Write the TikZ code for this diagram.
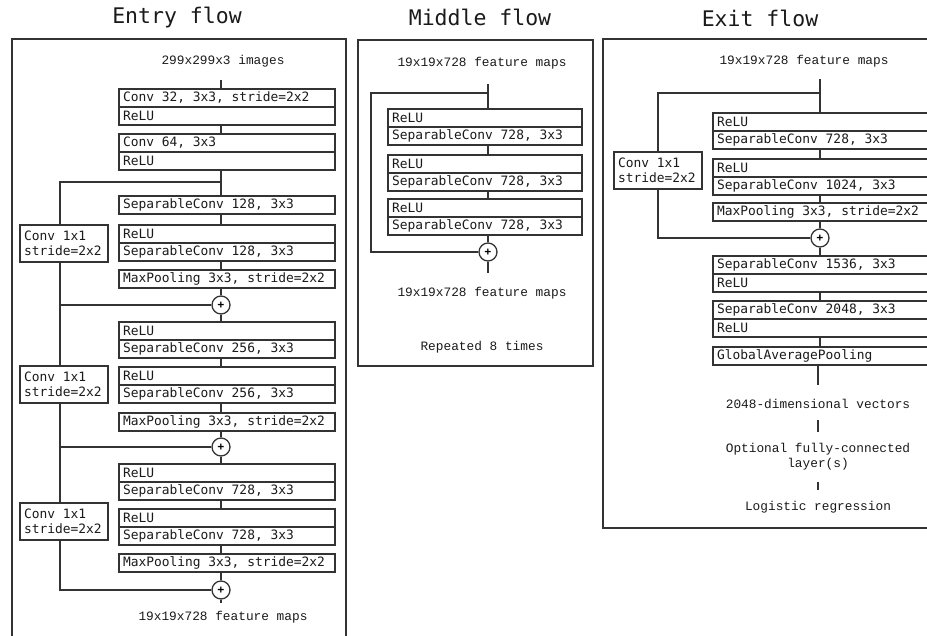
\documentclass[tikz,border=0pt]{standalone}
\usepackage{fontspec}
\usepackage{xcolor}
\usetikzlibrary{positioning}
\newfontfamily\dejamono{DejaVu Sans Mono}
\newfontfamily\libmono{Liberation Mono}
\newcommand\monospaces{\fontdimen2\font=0.602em\fontdimen3\font=0pt\fontdimen4\font=0pt}
\newcommand\blkfnt{\dejamono\fontsize{12.9}{15}\selectfont\monospaces}
\newcommand\lblfnt{\libmono\fontsize{12.8}{15}\selectfont}
\newcommand\ttlfnt{\dejamono\fontsize{21.5}{24}\selectfont\monospaces}
\newcommand\sumfnt{\dejamono\bfseries\fontsize{11}{11}\selectfont}
\definecolor{linegray}{HTML}{333333}
\definecolor{inkgray}{HTML}{1A1A1A}
\tikzset{
	blk/.style={draw=linegray, line width=1.3pt, outer sep=0pt, inner xsep=4pt, inner ysep=0pt,
		minimum height=18pt, align=left, anchor=north west, font=\blkfnt, text=inkgray,
		execute at begin node={\spaceskip=0pt\xspaceskip=0pt}},
	entryblk/.style={blk, text width=208pt},
	midblk/.style={blk, text width=186pt},
	exitblk/.style={blk, text width=214pt},
	shortcut/.style={blk, text width=80pt, minimum height=37pt},
	addnode/.style={circle, draw=linegray, line width=1.3pt, minimum size=18pt, inner sep=0pt, fill=white, font=\sumfnt},
	lbl/.style={font=\lblfnt, text=inkgray, align=center},
	flowtitle/.style={font=\ttlfnt, text=inkgray},
	link/.style={draw=linegray, line width=1.2pt},
	panel/.style={draw=linegray, line width=1.2pt},
}
\begin{document}
\begin{tikzpicture}[x=1pt,y=-1pt]
	\useasboundingbox (0,0) rectangle (927,636);
	\clip (0,0) rectangle (927,636);
	% Panels
	\draw[panel] (12,39) rectangle (346,660);
	\draw[panel] (358,40) rectangle (593,366);
	\draw[panel] (603,39) rectangle (945,528);
	\node[flowtitle] (tentry) at (177,18) {Entry flow};
	\node[flowtitle] (tmid) at (480,17) {Middle flow};
	\node[flowtitle] (texit) at (760,18) {Exit flow};
	\coordinate (espine) at (221,0);
	\coordinate (eskip) at (60,0);
	\coordinate (mspine) at (488,0);
	\coordinate (mskip) at (371,0);
	\coordinate (xspine) at (820,0);

	% Entry flow
	\node[lbl] (ein) at (223,61) {299x299x3 images};
	\node[entryblk] (e1a) at (119,89) {Conv 32, 3x3, stride=2x2};
	\node[entryblk, below=0pt of e1a] (e1b) {ReLU};
	\node[entryblk] (e2a) at (119,134) {Conv 64, 3x3};
	\node[entryblk, below=0pt of e2a] (e2b) {ReLU};
	\coordinate (eb1) at (221,182);
	\node[entryblk] (e3) at (119,196) {SeparableConv 128, 3x3};
	\node[entryblk] (e4a) at (119,225) {ReLU};
	\node[entryblk, below=0pt of e4a] (e4b) {SeparableConv 128, 3x3};
	\node[entryblk] (e5) at (119,270) {MaxPooling 3x3, stride=2x2};
	\node[addnode] (p1) at (221,305) {+};
	\node[entryblk] (e6a) at (119,322) {ReLU};
	\node[entryblk, below=0pt of e6a] (e6b) {SeparableConv 256, 3x3};
	\node[entryblk] (e7a) at (119,367) {ReLU};
	\node[entryblk, below=0pt of e7a] (e7b) {SeparableConv 256, 3x3};
	\node[entryblk] (e8) at (119,413) {MaxPooling 3x3, stride=2x2};
	\node[addnode] (p2) at (221,447) {+};
	\node[entryblk] (e9a) at (119,464) {ReLU};
	\node[entryblk, below=0pt of e9a] (e9b) {SeparableConv 728, 3x3};
	\node[entryblk] (e10a) at (119,509) {ReLU};
	\node[entryblk, below=0pt of e10a] (e10b) {SeparableConv 728, 3x3};
	\node[entryblk] (e11) at (119,554) {MaxPooling 3x3, stride=2x2};
	\node[addnode] (p3) at (221,590) {+};
	\node[lbl] (eout) at (223,617) {19x19x728 feature maps};
	\node[shortcut] (c1) at (20,225) {Conv 1x1\\stride=2x2};
	\node[shortcut] (c2) at (20,366) {Conv 1x1\\stride=2x2};
	\node[shortcut] (c3) at (20,503) {Conv 1x1\\stride=2x2};
	\draw[link, shorten <=10pt] (ein.south -| espine) -- (e1a.north -| espine);
	\draw[link] (e1b.south -| espine) -- (e2a.north -| espine);
	\draw[link] (e2b.south -| espine) -- (e3.north -| espine);
	\draw[link] (e3.south -| espine) -- (e4a.north -| espine);
	\draw[link] (e4b.south -| espine) -- (e5.north -| espine);
	\draw[link] (e5.south -| espine) -- (p1.north);
	\draw[link] (p1.south) -- (e6a.north -| espine);
	\draw[link] (e6b.south -| espine) -- (e7a.north -| espine);
	\draw[link] (e7b.south -| espine) -- (e8.north -| espine);
	\draw[link] (e8.south -| espine) -- (p2.north);
	\draw[link] (p2.south) -- (e9a.north -| espine);
	\draw[link] (e9b.south -| espine) -- (e10a.north -| espine);
	\draw[link] (e10b.south -| espine) -- (e11.north -| espine);
	\draw[link] (e11.south -| espine) -- (p3.north);
	\draw[link, shorten >=5pt] (p3.south) -- (eout.north -| espine);
	% shortcuts
	\draw[link] (eb1) -| (c1.north -| eskip);
	\draw[link] (c1.south -| eskip) |- (p1.west);
	\draw[link] (p1.west -| eskip) -- (c2.north -| eskip);
	\draw[link] (c2.south -| eskip) |- (p2.west);
	\draw[link] (p2.west -| eskip) -- (c3.north -| eskip);
	\draw[link] (c3.south -| eskip) |- (p3.west);

	% Middle flow
	\node[lbl] (min) at (482,63) {19x19x728 feature maps};
	\coordinate (mb) at (488,93);
	\node[midblk] (m1a) at (388,109) {ReLU};
	\node[midblk, below=0pt of m1a] (m1b) {SeparableConv 728, 3x3};
	\node[midblk] (m2a) at (388,155) {ReLU};
	\node[midblk, below=0pt of m2a] (m2b) {SeparableConv 728, 3x3};
	\node[midblk] (m3a) at (388,199) {ReLU};
	\node[midblk, below=0pt of m3a] (m3b) {SeparableConv 728, 3x3};
	\node[addnode] (mp) at (488,252) {+};
	\node[lbl] (mout) at (482,293) {19x19x728 feature maps};
	\node[lbl] (mrep) at (482,347) {Repeated 8 times};
	\draw[link, shorten <=12pt] (min.south -| mspine) -- (m1a.north -| mspine);
	\draw[link] (m1b.south -| mspine) -- (m2a.north -| mspine);
	\draw[link] (m2b.south -| mspine) -- (m3a.north -| mspine);
	\draw[link] (m3b.south -| mspine) -- (mp.north);
	\draw[link, shorten >=10pt] (mp.south) -- (mout.north -| mspine);
	\draw[link] (mb) -| (mp.west -| mskip) -- (mp.west);

	% Exit flow
	\node[lbl] (xin) at (804,61) {19x19x728 feature maps};
	\coordinate (xb) at (820,93);
	\node[exitblk] (x1a) at (713,113) {ReLU};
	\node[exitblk, below=0pt of x1a] (x1b) {SeparableConv 728, 3x3};
	\node[exitblk] (x2a) at (713,159) {ReLU};
	\node[exitblk, below=0pt of x2a] (x2b) {SeparableConv 1024, 3x3};
	\node[exitblk] (x3) at (713,203) {MaxPooling 3x3, stride=2x2};
	\node[addnode] (xp) at (820,238) {+};
	\node[exitblk] (x4a) at (713,256) {SeparableConv 1536, 3x3};
	\node[exitblk, below=0pt of x4a] (x4b) {ReLU};
	\node[exitblk] (x5a) at (713,301) {SeparableConv 2048, 3x3};
	\node[exitblk, below=0pt of x5a] (x5b) {ReLU};
	\node[exitblk] (x6) at (713,347) {GlobalAveragePooling};
	\node[lbl] (xvec) at (818,404) {2048-dimensional vectors};
	\node[lbl] (xfc) at (818,457) {Optional fully-connected\\layer(s)};
	\node[lbl] (xlog) at (818,507) {Logistic regression};
	\node[shortcut] (xc) at (614,152) {Conv 1x1\\stride=2x2};
	\draw[link, shorten <=9pt] (xin.south -| xspine) -- (x1a.north -| xspine);
	\draw[link] (x1b.south -| xspine) -- (x2a.north -| xspine);
	\draw[link] (x2b.south -| xspine) -- (x3.north -| xspine);
	\draw[link] (x3.south -| xspine) -- (xp.north);
	\draw[link] (xp.south) -- (x4a.north -| xspine);
	\draw[link] (x4b.south -| xspine) -- (x5a.north -| xspine);
	\draw[link] (x5b.south -| xspine) -- (x6.north -| xspine);
	\draw[link, shorten >=11pt] (x6.south -| xvec) -- (xvec.north);
	\draw[link, shorten <=8pt, shorten >=8pt] (xvec.south) -- (xfc.north);
	\draw[link, shorten <=8pt, shorten >=8pt] (xfc.south) -- (xlog.north);
	\draw[link] (xb) -| (xc.north);
	\draw[link] (xc.south) |- (xp.west);
\end{tikzpicture}
\end{document}
